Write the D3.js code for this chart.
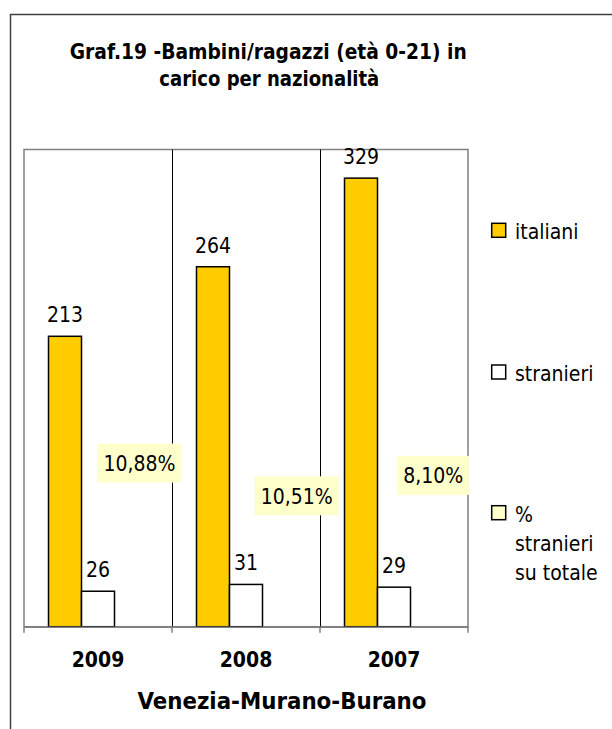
<!DOCTYPE html>
<html><head><meta charset="utf-8">
<script src="https://cdn.jsdelivr.net/npm/d3@7"></script>
<style>
html,body{margin:0;padding:0;background:#fff;}
svg{display:block;}
text{font-family:"DejaVu Sans Condensed","DejaVu Sans",sans-serif;font-stretch:condensed;fill:#000;}
</style></head>
<body>
<script>
// ---- data ----
const years = ["2009", "2008", "2007"];
const italiani = [213, 264, 329];
const stranieri = [26, 31, 29];
const pctStranieri = [10.88, 10.51, 8.10];
const seriesNames = ["italiani", "stranieri", "% stranieri su totale"];
const titleLines = ["Graf.19 -Bambini/ragazzi (età 0-21) in", "carico per nazionalità"];
const axisTitle = "Venezia-Murano-Burano";

// ---- layout (manual label placement of % labels, as in original) ----
const pctLabelY = [120, 96, 111];   // y position in value units
const pctLabelDx = [8.5, 17.7, 6.2];
const titleWidths = [397, 220];
const titleCenters = [268.3, 269.3];

const W = 612, H = 729;
const svg = d3.select("body").append("svg").attr("width", W).attr("height", H);

// outer chart border (extends past the window)
svg.append("rect").attr("x", 10.5).attr("y", 14.5).attr("width", 800).attr("height", 900)
  .attr("fill", "#fff").attr("stroke", "#404040").attr("stroke-width", 1.5);

const plot = {left: 24, right: 468, top: 149.5, bottom: 626.7};

const x0 = d3.scaleBand().domain(years).range([plot.left, plot.right]).padding(0);
const bw = x0.bandwidth();
const groupW = 99;
const x1 = d3.scaleBand().domain(seriesNames).range([(bw - groupW) / 2, (bw + groupW) / 2]).padding(0);
const y = d3.scaleLinear().domain([0, 350]).range([plot.bottom, plot.top]);

// plot area border
svg.append("rect").attr("x", plot.left).attr("y", plot.top)
  .attr("width", plot.right - plot.left).attr("height", plot.bottom - plot.top)
  .attr("fill", "none").attr("stroke", "#808080").attr("stroke-width", 1.5);

// vertical gridlines at category boundaries
svg.append("g").selectAll("line").data(years.slice(1)).join("line")
  .attr("x1", d => Math.round(x0(d)) + 0.5).attr("x2", d => Math.round(x0(d)) + 0.5)
  .attr("y1", plot.top).attr("y2", plot.bottom)
  .attr("stroke", "#000").attr("stroke-width", 1);

// bars
const g = svg.append("g");
const rows = years.map((yr, i) => ({yr, i, vals: [italiani[i], stranieri[i]]}));
const fills = ["#FFCC00", "#FFFFFF"];
rows.forEach(r => {
  r.vals.forEach((v, s) => {
    const bx = x0(r.yr) + x1(seriesNames[s]);
    g.append("rect").attr("x", bx).attr("y", y(v))
      .attr("width", x1.bandwidth()).attr("height", y(0) - y(v))
      .attr("fill", fills[s]).attr("stroke", "#000").attr("stroke-width", 1.5);
    g.append("text").attr("x", bx + x1.bandwidth() / 2).attr("y", y(v) - 14)
      .attr("text-anchor", "middle").attr("font-size", 21).text(v);
  });
});

// x axis
const xAxis = d3.axisBottom(x0).tickSize(0).tickFormat("");
const ax = svg.append("g").attr("transform", `translate(0,${plot.bottom})`).call(xAxis);
ax.select(".domain").attr("stroke", "#808080").attr("stroke-width", 1.5);
// tick marks at category boundaries
const bounds = years.map(d => x0(d)).concat([plot.right]);
svg.append("g").selectAll("line").data(bounds).join("line")
  .attr("x1", d => d).attr("x2", d => d)
  .attr("y1", plot.bottom).attr("y2", plot.bottom + 6)
  .attr("stroke", "#808080").attr("stroke-width", 1.5);
// category labels
svg.append("g").selectAll("text").data(years).join("text")
  .attr("x", d => x0(d) + bw / 2).attr("y", 667)
  .attr("text-anchor", "middle").attr("font-size", 21).attr("font-weight", "bold")
  .text(d => d);

// % labels
const fmt = v => d3.format(".2f")(v).replace(".", ",") + "%";
pctStranieri.forEach((v, i) => {
  const cx = x0(years[i]) + x1(seriesNames[2]) + x1.bandwidth() / 2 + pctLabelDx[i];
  const cy = y(pctLabelY[i]);
  const lg = svg.append("g");
  const bg = lg.append("rect").attr("fill", "#FFFFCC");
  const t = lg.append("text").attr("x", cx).attr("y", cy + 8)
    .attr("text-anchor", "middle").attr("font-size", 21).text(fmt(v));
  const bb = t.node().getBBox();
  bg.attr("x", cx - bb.width / 2 - 6).attr("y", cy - 19.5)
    .attr("width", bb.width + 12).attr("height", 39);
});

// axis title
svg.append("text").attr("x", 282).attr("y", 709.3).attr("text-anchor", "middle")
  .attr("font-size", 23).attr("font-weight", "bold")
  .attr("textLength", 289).attr("lengthAdjust", "spacingAndGlyphs").text(axisTitle);

// chart title
svg.append("g").selectAll("text").data(titleLines).join("text")
  .attr("x", (d, i) => titleCenters[i]).attr("y", (d, i) => 58.5 + i * 27.5)
  .attr("text-anchor", "middle").attr("font-size", 22).attr("font-weight", "bold")
  .attr("textLength", (d, i) => titleWidths[i]).attr("lengthAdjust", "spacingAndGlyphs")
  .text(d => d);

// legend
const legendFills = ["#FFCC00", "#FFFFFF", "#FFFFCC"];
const legendY = [223.3, 365, 505.7];
const legendLines = [["italiani"], ["stranieri"], ["%", "stranieri", "su totale"]];
const lgd = svg.append("g");
seriesNames.forEach((s, i) => {
  lgd.append("rect").attr("x", 491.7).attr("y", legendY[i]).attr("width", 14).attr("height", 14)
    .attr("fill", legendFills[i]).attr("stroke", "#000").attr("stroke-width", 1.5);
  legendLines[i].forEach((ln, j) => {
    lgd.append("text").attr("x", 515).attr("y", legendY[i] + 16 + j * 29.2)
      .attr("font-size", 21).text(ln);
  });
});
</script>
</body></html>
